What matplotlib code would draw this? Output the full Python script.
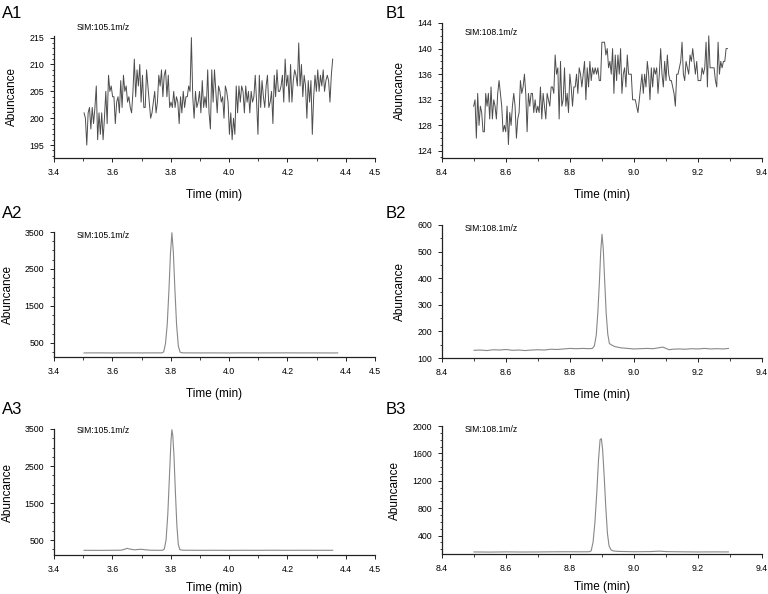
import numpy as np
import matplotlib
matplotlib.use('Agg')
from matplotlib import pyplot as plt
from matplotlib.ticker import MultipleLocator, FixedLocator, FormatStrFormatter

plt.rcParams['font.family'] = ['Liberation Sans', 'DejaVu Sans']

# A1: SIM 105.1 m/z, blank trace (uniform sampling between start and end time)
a1_start, a1_end = 3.503, 4.355
a1_values = [
    201, 200, 195, 201, 202, 198, 202, 199, 202, 206, 196, 201, 197, 201, 196, 200,
    205, 199, 208, 205, 206, 204, 204, 199, 203, 204, 201, 207, 202, 208, 205, 206,
    203, 204, 202, 201, 205, 211, 204, 209, 206, 210, 203, 208, 202, 202, 209, 206,
    203, 200, 201, 203, 205, 201, 203, 208, 206, 209, 204, 208, 209, 204, 208, 202,
    203, 202, 205, 202, 204, 203, 199, 204, 201, 205, 202, 204, 204, 206, 205, 215,
    204, 200, 205, 202, 203, 205, 201, 207, 202, 204, 202, 209, 201, 198, 209, 203,
    209, 205, 201, 206, 205, 203, 204, 200, 206, 205, 203, 197, 201, 196, 200, 197,
    206, 201, 206, 203, 206, 205, 201, 206, 203, 205, 201, 205, 203, 204, 208, 203,
    197, 208, 202, 207, 204, 202, 206, 208, 202, 203, 205, 199, 208, 204, 209, 205,
    205, 206, 208, 203, 211, 206, 208, 203, 210, 203, 207, 209, 208, 206, 214, 206,
    210, 204, 208, 206, 200, 207, 203, 207, 197, 204, 208, 205, 209, 205, 208, 206,
    209, 205, 207, 208, 207, 203, 208, 211,
]

# B1: SIM 108.1 m/z, blank trace
b1_start, b1_end = 8.499, 9.292
b1_values = [
    131, 132, 126, 133, 128, 131, 130, 127, 127, 133, 131, 133, 129, 134, 129, 132,
    131, 129, 133, 135, 133, 131, 127, 128, 127, 131, 125, 130, 128, 131, 133, 131,
    126, 129, 130, 135, 133, 134, 136, 133, 127, 133, 131, 133, 133, 130, 132, 130,
    131, 130, 134, 129, 133, 131, 129, 133, 132, 131, 134, 134, 133, 139, 136, 137,
    129, 138, 131, 132, 137, 131, 133, 130, 136, 134, 131, 134, 134, 136, 133, 137,
    136, 134, 136, 138, 132, 137, 134, 138, 135, 137, 136, 137, 136, 137, 135, 135,
    141, 141, 141, 139, 140, 137, 138, 136, 140, 133, 139, 135, 139, 136, 140, 133,
    136, 137, 134, 139, 136, 136, 136, 132, 132, 132, 131, 130, 132, 134, 136, 133,
    136, 134, 138, 136, 132, 137, 134, 137, 136, 137, 133, 136, 140, 136, 134, 138,
    135, 139, 136, 135, 135, 134, 133, 131, 136, 136, 137, 138, 141, 136, 135, 138,
    137, 136, 139, 138, 140, 138, 136, 138, 135, 135, 135, 137, 136, 137, 141, 134,
    142, 137, 137, 137, 137, 135, 134, 141, 136, 138, 137, 138, 138, 140, 140,
]

# A2: SIM 105.1 m/z, standard
a2_time = [3.503, 3.55, 3.60, 3.65, 3.70, 3.75, 3.770, 3.776, 3.782, 3.788, 3.794,
           3.799, 3.804, 3.809, 3.814, 3.820, 3.826, 3.832, 3.840, 3.90, 3.95, 4.00,
           4.05, 4.10, 4.15, 4.20, 4.25, 4.30, 4.35, 4.372]
a2_values = [230, 232, 229, 231, 230, 232, 231, 260, 480, 1000, 1950,
             2900, 3480, 2950, 2000, 1000, 420, 250, 232, 230, 231, 229,
             232, 230, 231, 232, 230, 231, 229, 231]

# B2: SIM 108.1 m/z, standard
b2_time = [8.50, 8.52, 8.54, 8.56, 8.58, 8.60, 8.62, 8.64, 8.66, 8.68, 8.70, 8.72,
           8.74, 8.76, 8.78, 8.80, 8.82, 8.84, 8.86, 8.870, 8.876, 8.882, 8.887,
           8.892, 8.896, 8.900, 8.904, 8.908, 8.913, 8.918, 8.923, 8.928, 8.935,
           8.94, 8.96, 8.98, 9.00, 9.02, 9.04, 9.06, 9.08, 9.09, 9.10, 9.11, 9.12,
           9.14, 9.16, 9.18, 9.20, 9.22, 9.24, 9.26, 9.28, 9.295]
b2_values = [129, 130, 128, 131, 130, 132, 129, 130, 128, 130, 131, 130,
             133, 132, 134, 136, 135, 136, 135, 136, 145, 185, 270,
             390, 500, 565, 510, 400, 270, 190, 155, 150, 146,
             143, 138, 136, 134, 135, 136, 135, 139, 141, 136, 131, 133,
             134, 133, 135, 134, 136, 134, 135, 134, 136]

# A3: SIM 105.1 m/z, sample
a3_time = [3.503, 3.55, 3.60, 3.63, 3.64, 3.65, 3.66, 3.675, 3.69, 3.70, 3.71, 3.73,
           3.76, 3.772, 3.778, 3.784, 3.790, 3.796, 3.801, 3.804, 3.807, 3.811,
           3.816, 3.821, 3.826, 3.831, 3.840, 3.90, 3.95, 4.00, 4.05, 4.10, 4.15,
           4.20, 4.25, 4.30, 4.355]
a3_values = [222, 220, 223, 225, 245, 275, 255, 235, 245, 250, 238, 225,
             222, 224, 255, 500, 1200, 2300, 3200, 3480, 3330, 2800,
             1800, 900, 380, 240, 225, 222, 223, 221, 223, 222, 224,
             222, 223, 222, 223]

# B3: SIM 108.1 m/z, sample
b3_time = [8.50, 8.55, 8.60, 8.65, 8.70, 8.75, 8.80, 8.84, 8.860, 8.866, 8.872,
           8.878, 8.884, 8.889, 8.894, 8.898, 8.902, 8.907, 8.912, 8.917, 8.922,
           8.928, 8.935, 8.95, 9.00, 9.05, 9.08, 9.10, 9.15, 9.20, 9.25, 9.295]
b3_values = [160, 158, 161, 159, 160, 162, 163, 162, 163, 175, 300,
             600, 1050, 1500, 1800, 1815, 1650, 1250, 800, 430, 250,
             190, 175, 168, 163, 165, 172, 165, 162, 160, 161, 160]


def style_axis(ax, xlim, xticks, ylim, yticks, yminor, sim_text, sim_y, xpad=9):
    for side in ('top', 'right'):
        ax.spines[side].set_visible(False)
    for side in ('left', 'bottom'):
        ax.spines[side].set_linewidth(0.9)
        ax.spines[side].set_color('#222222')
    ax.set_xlim(*xlim)
    ax.set_ylim(*ylim)
    ax.xaxis.set_major_locator(FixedLocator(xticks))
    ax.xaxis.set_minor_locator(MultipleLocator(0.1))
    ax.xaxis.set_major_formatter(FormatStrFormatter('%.1f'))
    ax.yaxis.set_major_locator(FixedLocator(yticks))
    ax.yaxis.set_minor_locator(MultipleLocator(yminor))
    ax.tick_params(which='major', length=3, width=0.7, labelsize=6.3, pad=4, color='#222222')
    ax.tick_params(which='minor', length=1.8, width=0.6, color='#222222')
    ax.set_xlabel('Time (min)', fontsize=8.5, labelpad=xpad)
    ax.set_ylabel('Abuncance', fontsize=8.5, labelpad=8)
    ax.text(0.07, sim_y, sim_text, transform=ax.transAxes, fontsize=6.2,
            va='center', ha='left')


fig = plt.figure(figsize=(7.68, 5.94), dpi=100)
W, H = 768.0, 594.0


def add_axes(left, right, top, bottom):
    return fig.add_axes([left / W, 1 - bottom / H, (right - left) / W, (bottom - top) / H])


a_xticks = [3.4, 3.6, 3.8, 4.0, 4.2, 4.4, 4.5]
b_xticks = [8.4, 8.6, 8.8, 9.0, 9.2, 9.4]

ax = add_axes(54, 375, 36, 158)
t = np.linspace(a1_start, a1_end, len(a1_values))
ax.plot(t, a1_values, color='#4d4d4d', lw=0.7)
style_axis(ax, (3.4, 4.5), a_xticks, (192.6, 215.3), [195, 200, 205, 210, 215], 1,
           'SIM:105.1m/z', 1.07)

ax = add_axes(442, 762, 23, 158)
t = np.linspace(b1_start, b1_end, len(b1_values))
ax.plot(t, b1_values, color='#4d4d4d', lw=0.7)
style_axis(ax, (8.4, 9.4), b_xticks, (122.9, 144), [124, 128, 132, 136, 140, 144], 1,
           'SIM:108.1m/z', 0.93)

ax = add_axes(54, 375, 232, 357)
ax.plot(a2_time, a2_values, color='#888888', lw=0.8)
style_axis(ax, (3.4, 4.5), a_xticks, (120, 3500), [500, 1500, 2500, 3500], 250,
           'SIM:105.1m/z', 0.97)

ax = add_axes(442, 762, 225, 358)
ax.plot(b2_time, b2_values, color='#888888', lw=0.8)
style_axis(ax, (8.4, 9.4), b_xticks, (100, 600), [100, 200, 300, 400, 500, 600], 50,
           'SIM:108.1m/z', 0.97)

ax = add_axes(54, 375, 429, 555)
ax.plot(a3_time, a3_values, color='#888888', lw=0.8)
style_axis(ax, (3.4, 4.5), a_xticks, (95, 3500), [500, 1500, 2500, 3500], 250,
           'SIM:105.1m/z', 0.99, xpad=6)

ax = add_axes(442, 762, 426, 554)
ax.plot(b3_time, b3_values, color='#888888', lw=0.8)
style_axis(ax, (8.4, 9.4), b_xticks, (130, 2000), [400, 800, 1200, 1600, 2000], 100,
           'SIM:108.1m/z', 0.97, xpad=6)

for label, x, y in [('A1', 2, 14), ('B1', 386, 14), ('A2', 2, 213),
                    ('B2', 386, 213), ('A3', 2, 409), ('B3', 386, 409)]:
    fig.text(x / W, 1 - y / H, label, fontsize=12, va='center', ha='left')

fig.savefig('out.png', dpi=100)
